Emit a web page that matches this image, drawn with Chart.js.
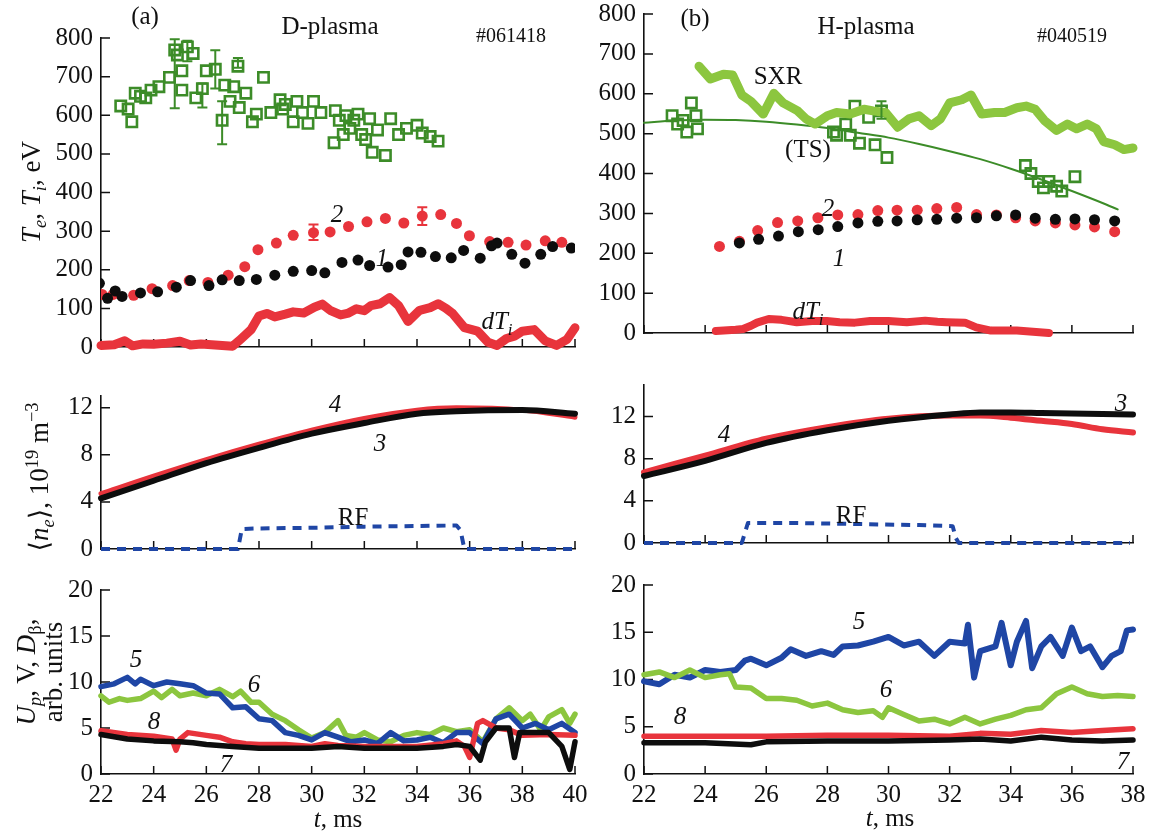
<!DOCTYPE html>
<html>
<head>
<meta charset="utf-8">
<script src="https://cdn.jsdelivr.net/npm/chart.js@4.4.0/dist/chart.umd.min.js"></script>
<style>
  body { margin: 0; width: 1149px; height: 835px; overflow: hidden; background: #fff; position: relative;
         font-family: "Liberation Serif", "DejaVu Serif", serif; color: #111; }
  .panel { position: absolute; }
  .lbl { position: absolute; white-space: nowrap; transform: translate(-50%, -50%); font-size: 25px; line-height: 1; z-index: 2; }
  .it { font-style: italic; }
  .small { font-size: 20px; }
  .ytitle { position: absolute; white-space: nowrap; transform: translate(-50%, -50%) rotate(-90deg);
            font-size: 27px; line-height: 1.0; text-align: center; z-index: 2; }
  sub, sup { font-size: 0.68em; line-height: 0; }
</style>
</head>
<body>

<!-- подписи панели (a) -->
<div class="lbl" style="left:145px;top:15px">(a)</div>
<div class="lbl" style="left:330px;top:25px">D-plasma</div>
<div class="lbl small" style="left:511px;top:35px">#061418</div>
<div class="lbl it" style="left:337px;top:213px">2</div>
<div class="lbl it" style="left:382px;top:257px">1</div>
<div class="lbl" style="left:497px;top:320px"><span class="it">dT</span><sub class="it">i</sub></div>
<div class="lbl it" style="left:335px;top:403px">4</div>
<div class="lbl it" style="left:380px;top:442px">3</div>
<div class="lbl" style="left:353px;top:516px">RF</div>
<div class="lbl it" style="left:136px;top:658px">5</div>
<div class="lbl it" style="left:254px;top:683px">6</div>
<div class="lbl it" style="left:154px;top:720px">8</div>
<div class="lbl it" style="left:226px;top:763px">7</div>
<div class="lbl" style="left:338px;top:818px"><span class="it">t</span>, ms</div>

<div class="ytitle" style="left:31px;top:192px"><span class="it">T<sub>e</sub></span>, <span class="it">T<sub>i</sub></span>, eV</div>
<div class="ytitle" style="left:39px;top:477px">⟨<span class="it">n<sub>e</sub></span>⟩, 10<sup>19</sup> m<sup>−3</sup></div>
<div class="ytitle" style="left:40px;top:672px"><span class="it">U<sub>p</sub></span>, V, <span class="it">D</span><sub>β</sub>,<br>arb. units</div>

<!-- подписи панели (b) -->
<div class="lbl" style="left:695px;top:17px">(b)</div>
<div class="lbl" style="left:866px;top:25px">H-plasma</div>
<div class="lbl small" style="left:1072px;top:35px">#040519</div>
<div class="lbl" style="left:778px;top:75px">SXR</div>
<div class="lbl" style="left:808px;top:148px">(TS)</div>
<div class="lbl it" style="left:828px;top:207px">2</div>
<div class="lbl it" style="left:839px;top:257px">1</div>
<div class="lbl" style="left:808px;top:310px"><span class="it">dT</span><sub class="it">i</sub></div>
<div class="lbl it" style="left:724px;top:433px">4</div>
<div class="lbl it" style="left:1121px;top:402px">3</div>
<div class="lbl" style="left:851px;top:514px">RF</div>
<div class="lbl it" style="left:859px;top:620px">5</div>
<div class="lbl it" style="left:886px;top:688px">6</div>
<div class="lbl it" style="left:680px;top:715px">8</div>
<div class="lbl it" style="left:1123px;top:760px">7</div>
<div class="lbl" style="left:890px;top:817px"><span class="it">t</span>, ms</div>

<script>
// ---------- (a) D-plasma, #061418 ----------
// Te (1), чёрные точки
const aTeT = [21.94,22.25,22.54,22.8,23.5,24.15,24.86,25.4,26.1,26.6,27.25,27.9,28.6,29.3,30.0,30.5,31.15,31.76,32.2,32.9,33.4,33.66,34.15,34.7,35.3,35.77,36.4,36.83,37.04,37.6,38.1,38.7,39.15,39.86];
const aTe  = [165,126,145,131,140,143,155,172,159,174,172,175,186,196,198,192,219,225,211,207,213,246,245,234,231,250,230,262,269,240,217,240,260,256];
// Ti (2), красные точки
const aTiT = [22.04,22.46,23.24,23.94,24.72,25.35,26.06,26.83,27.46,27.96,28.66,29.3,30.07,30.7,31.4,32.1,32.8,33.5,34.2,34.9,35.5,35.99,36.76,37.46,38.14,38.87,39.5];
const aTi  = [136,136,134,151,159,172,167,186,208,252,269,289,296,298,312,324,333,321,339,343,320,288,273,271,264,275,271];
const aTiErrT = [30.07, 34.2];
const aTiErrLo = [277, 316];
const aTiErrHi = [317, 362];
// зелёные квадраты
const aSqT = [22.75,23.03,23.17,23.3,23.5,23.7,23.9,24.2,24.6,24.8,24.9,25.07,25.07,25.28,25.5,25.6,25.85,26.0,26.34,26.6,26.7,26.9,27.04,27.2,27.25,27.5,27.75,27.9,28.17,28.45,28.8,28.9,29.0,29.3,29.44,29.65,29.86,30.07,30.35,30.85,30.9,31.05,31.2,31.3,31.45,31.6,31.76,31.9,32.05,32.2,32.3,32.5,32.8,33.0,33.3,33.6,34.0,34.2,34.5,34.8];
const aSq  = [624,616,583,657,649,645,665,674,698,769,756,715,665,777,760,645,669,715,719,587,678,636,674,727,620,657,583,603,698,607,640,616,628,583,636,607,579,636,607,529,612,587,550,599,566,587,603,550,537,591,504,562,496,591,550,566,574,554,545,533];
const aSqErrT = [24.8, 25.28, 25.85, 26.34, 26.6, 27.2];
const aSqErrLo = [618, 740, 620, 669, 525, 723];
const aSqErrHi = [797, 793, 682, 768, 636, 748];
// dTi
const aDtT = [22,22.5,22.9,23.2,23.6,24,24.5,25,25.4,25.8,26.2,26.6,27.0,27.3,27.7,28.0,28.3,28.6,29.0,29.3,29.7,30.1,30.4,30.7,31.1,31.4,31.7,32.0,32.25,32.6,32.96,33.3,33.66,34.1,34.5,34.8,35.1,35.35,35.8,36.3,36.7,37.04,37.4,37.7,38.0,38.45,38.87,39.3,39.7,40.0];
const aDt  = [4,6,16,3,8,7,10,15,5,8,6,4,2,20,45,80,87,78,85,91,88,103,111,95,83,88,99,94,107,112,128,107,66,95,102,112,100,87,50,41,12,4,22,28,41,45,16,4,20,50];
// <ne> (3 — чёрная, 4 — красная), RF
const aNeT = [22,24,26,28,30,32,34,35.5,38,40];
const aNe3 = [4.3,5.8,7.3,8.6,9.8,10.7,11.5,11.7,11.8,11.5];
const aNe4 = [4.7,6.2,7.6,8.9,10.1,11.1,11.8,12.0,11.8,11.2];
const aRfT = [22,27.2,27.35,28,30,32,34,35.5,35.65,35.8,40];
const aRf  = [0,0,1.7,1.75,1.8,1.9,1.95,2.0,1.6,0,0];
// Up (5), V (6), Dβ (8, 7)
const a5T = [22,22.5,23,23.3,23.5,24,24.5,25,25.5,26,26.5,27,27.5,28,28.5,29,29.5,30,30.5,31,31.5,32,32.5,33,33.5,34,34.5,35,35.5,36,36.5,37,37.5,38,38.5,39,39.5,40];
const a5  = [9.5,9.8,10.5,9.8,10.3,9.6,10,9.8,9.6,8.8,8.7,7.2,7.3,6,5.8,4.5,4.2,3.7,4.5,4.0,3.5,3.7,3.3,4.5,3.6,3.7,4.0,3.4,4.5,4.5,3.3,6.0,6.5,5.0,5.5,4.8,5.5,4.5];
const a6T = [22,22.3,22.7,23,23.5,24,24.3,24.7,25,25.5,26,26.5,27,27.3,27.7,28,28.5,29,29.5,30,30.5,31,31.3,31.7,32,32.5,33,33.5,34,34.5,35,35.5,36,36.5,36.8,37,37.5,38,38.3,38.7,39,39.5,39.8,40];
const a6  = [8.5,7.8,8.2,8.0,8.2,9.0,8.3,9.2,8.5,8.8,8.5,9.2,8.4,9.0,7.8,7.8,6.5,5.8,4.8,3.9,4.5,5.8,4.2,4.0,4.5,3.7,3.5,4.2,4.5,4.3,5.0,4.6,4.8,3.5,5.0,6.0,7.2,5.8,6.5,4.8,6.2,7.0,5.5,6.5];
const a8T = [22,23,24,24.7,24.85,25,25.3,26,26.5,27,27.5,28,29,30,30.5,31,32,33,34,35,35.5,35.8,36,36.3,36.5,37,37.5,38,39,40];
const a8  = [4.7,4.3,4.1,3.8,2.6,3.8,4.5,4.2,4.0,3.5,3.3,3.2,3.2,3.0,3.3,3.1,3.0,3.0,3.0,3.3,3.6,3.0,1.8,5.5,5.8,5.0,4.8,4.2,4.3,4.2];
const a7T = [22,23,24,25,25.5,26,27,28,29,30,31,32,33,34,35,35.5,36,36.4,36.6,37,37.5,37.7,37.9,38.5,39,39.5,39.8,40];
const a7  = [4.3,3.8,3.6,3.5,3.4,3.2,3.0,2.8,2.8,2.8,3.0,2.8,2.8,2.8,3.0,3.2,3.0,1.5,3.5,5.0,5.0,1.8,4.5,4.5,4.5,3.0,0.5,3.5];

// ---------- (b) H-plasma, #040519 ----------
const bTeT = [25.12,25.75,26.4,27.05,27.7,28.34,29.0,29.65,30.28,30.94,31.58,32.23,32.88,33.53,34.16,34.8,35.46,36.1,36.74,37.4];
const bTe  = [226,235,243,254,259,267,276,280,281,284,285,288,289,294,296,288,285,286,284,281];
const bTiT = [24.47,25.12,25.72,26.37,27.03,27.69,28.34,29.0,29.65,30.28,30.94,31.58,32.23,32.88,33.53,34.16,34.8,35.46,36.1,36.74,37.4];
const bTi  = [217,230,257,277,281,289,296,297,307,308,308,312,315,297,296,289,281,276,271,266,254];
const bSqT = [22.92,23.1,23.28,23.4,23.55,23.7,23.75,28.2,28.3,28.6,28.75,28.9,29.05,29.35,29.56,29.77,29.95,34.48,34.66,34.9,35.07,35.25,35.5,35.67,36.1];
const bSq  = [545,524,533,504,577,545,512,504,496,524,496,569,476,541,472,557,440,420,400,380,364,380,368,356,392];
const bSqErrT = [29.77];
const bSqErrLo = [537];
const bSqErrHi = [581];
const bSxrT = [23.8,24.17,24.6,24.9,25.2,25.5,25.9,26.25,26.55,27.03,27.3,27.6,28.0,28.3,28.75,29.2,29.5,29.9,30.3,30.67,31.0,31.4,31.7,32.0,32.4,32.7,33.05,33.47,33.8,34.2,34.5,34.8,35.1,35.5,35.85,36.15,36.5,36.8,37.04,37.4,37.7,38.0];
const bSxr  = [669,637,649,647,597,581,549,601,577,557,537,524,545,553,549,561,557,553,516,537,545,520,537,577,585,597,549,553,553,565,569,561,533,508,524,512,524,512,480,472,460,464];
const bFitT = [22,23,24,25,26,27,28,29,30,31,32,33,34,35,36,37,37.5];
const bFit  = [527,533,535,534,530,523,514,502,490,474,456,436,412,385,356,326,310];
const bDtT = [24.35,25.0,25.24,25.5,25.7,26.08,26.5,27.0,27.5,27.98,28.4,28.9,29.4,30.0,30.6,31.2,31.6,31.9,32.5,32.87,33.35,34.2,35.25];
const bDt  = [5,8,10,18,26,35,33,27,30,30,27,26,30,30,27,31,28,27,26,14,6,6,0];
const bNeT = [22,24,26,28,30,32,33,34,35,36,37,38];
const bNe3 = [6.36,7.8,9.5,10.7,11.6,12.2,12.4,12.4,12.35,12.3,12.25,12.2];
const bNe4 = [6.7,8.3,9.9,11.0,11.8,12.1,12.1,11.9,11.6,11.3,10.8,10.5];
const bRfT = [22,25.2,25.4,27,29,31,32.1,32.2,32.3,37.9];
const bRf  = [0,0,1.9,1.9,1.8,1.7,1.6,0.5,0,0];
const b5T = [22,22.5,23,23.5,24,24.5,25,25.3,25.5,26,26.5,26.8,27.3,27.8,28.2,28.5,29,29.5,30,30.5,31,31.5,32,32.5,32.6,32.8,33,33.5,33.7,34,34.2,34.5,34.7,35,35.3,35.7,36,36.3,36.6,37,37.3,37.6,37.8,38];
const b5  = [9.8,9.5,10.5,10.2,11,10.8,11,12,12.2,11.5,12.3,13.2,12.5,13,12.6,13.5,13.6,14,14.5,13.6,14,12.5,14,13.8,15.8,10.2,13,13.5,16,11.5,14,16.2,11.2,13.5,14.5,12.5,15.5,13,13.5,11.3,12.5,13,15.2,15.3];
const b6T = [22,22.5,23,23.5,24,24.5,24.8,25,25.5,26,26.5,27,27.5,28,28.5,29,29.5,29.8,30,30.5,31,31.5,32,32.5,33,33.5,34,34.5,35,35.5,36,36.5,37,37.5,38];
const b6  = [10.5,10.8,10.2,11,10.2,10.5,10.6,9.2,9.1,8,8,7.8,7.2,7.5,6.8,6.5,6.7,6,7,6.3,5.6,5.8,5.3,6.0,5.3,5.8,6.2,6.8,7.0,8.5,9.2,8.5,8.2,8.3,8.2];
const b8T = [22,24,26,28,30,32,33,34,35,36,37,38];
const b8  = [4.0,4.0,4.0,4.1,4.1,4.0,4.3,4.2,4.6,4.4,4.6,4.8];
const b7T = [22,24,25.5,26,28,30,32,33,34,35,36,37,38];
const b7  = [3.3,3.3,3.1,3.4,3.5,3.5,3.6,3.7,3.5,3.9,3.6,3.5,3.6];

// тики осей
const xTicksA = [22,24,26,28,30,32,34,36,38,40];
const xTicksB = [22,24,26,28,30,32,34,36,38];
const yTicksT = [0,100,200,300,400,500,600,700,800];
const yTicksN = [0,4,8,12];
const yTicksU = [0,5,10,15,20];

const FONT = 'Liberation Serif';
const RED = '#e8343c', BLACK = '#0d0d0d', DKGREEN = '#3c8c28', LTGREEN = '#8cc63f', BLUE = '#1f46a5';

function pts(xs, ys) { return xs.map((x, i) => ({ x: x, y: ys[i] })); }
function errs(xs, lo, hi) { return xs.map((x, i) => ({ x: x, lo: lo[i], hi: hi[i] })); }

function line(xs, ys, color, width, extra) {
    return Object.assign({ type: 'line', data: pts(xs, ys), showLine: true, borderColor: color, borderWidth: width,
        pointRadius: 0, fill: false, tension: 0, clip: false, borderJoinStyle: 'round', borderCapStyle: 'round' }, extra || {});
}
function dots(xs, ys, color) {
    return { data: pts(xs, ys), showLine: false, pointRadius: 5.5, pointBackgroundColor: color, pointBorderWidth: 0, borderColor: color };
}
function squares(xs, ys) {
    return { data: pts(xs, ys), showLine: false, pointStyle: 'rect', pointRadius: 7.3, pointBackgroundColor: 'rgba(0,0,0,0)',
        pointBorderColor: DKGREEN, pointBorderWidth: 2.6, borderColor: DKGREEN };
}

// короткие тики внутрь области графика
const innerTicks = {
    id: 'innerTicks',
    beforeDatasetsDraw(chart) {
        const { ctx, chartArea: a } = chart;
        const x = chart.scales.x, y = chart.scales.y;
        ctx.save();
        ctx.strokeStyle = '#111';
        ctx.lineWidth = 1.5;
        ctx.beginPath();
        x.ticks.forEach(t => {
            const px = x.getPixelForValue(t.value);
            ctx.moveTo(px, a.bottom); ctx.lineTo(px, a.bottom - 8);
        });
        y.ticks.forEach(t => {
            const py = y.getPixelForValue(t.value);
            ctx.moveTo(a.left, py); ctx.lineTo(a.left + 9, py);
        });
        ctx.stroke();
        ctx.restore();
    }
};

// усы погрешностей
const errBars = {
    id: 'errBars',
    afterDatasetsDraw(chart) {
        const { ctx } = chart;
        const x = chart.scales.x, y = chart.scales.y;
        chart.data.datasets.forEach(ds => {
            if (!ds.errBars) return;
            ctx.save();
            ctx.strokeStyle = ds.borderColor;
            ctx.lineWidth = 2;
            ds.errBars.forEach(e => {
                const px = x.getPixelForValue(e.x);
                const y1 = y.getPixelForValue(e.lo), y2 = y.getPixelForValue(e.hi);
                ctx.beginPath();
                ctx.moveTo(px, y1); ctx.lineTo(px, y2);
                ctx.moveTo(px - 5, y1); ctx.lineTo(px + 5, y1);
                ctx.moveTo(px - 5, y2); ctx.lineTo(px + 5, y2);
                ctx.stroke();
            });
            ctx.restore();
        });
    }
};

// одна панель: box — пиксельные границы области построения
function panel(box, xMax, xTicks, yMax, yTicks, showX, datasets) {
    const padL = 80, padR = 30, padT = 30, padB = showX ? 60 : 10;
    const w = Math.round(box.r - box.l + padL + padR), h = Math.round(box.b - box.t + padT + padB);
    const div = document.createElement('div');
    div.className = 'panel';
    div.style.left = (box.l - padL) + 'px';
    div.style.top = (box.t - padT) + 'px';
    div.style.width = w + 'px';
    div.style.height = h + 'px';
    const cv = document.createElement('canvas');
    cv.width = w; cv.height = h;
    cv.style.width = w + 'px'; cv.style.height = h + 'px';
    div.appendChild(cv);
    document.body.appendChild(div);

    const tickFont = { family: FONT, size: 25 };
    new Chart(cv, {
        type: 'scatter',
        data: { datasets: datasets },
        options: {
            responsive: false,
            animation: false,
            events: [],
            layout: { padding: { left: 0, right: padR, top: padT, bottom: 0 } },
            plugins: { legend: { display: false }, tooltip: { enabled: false } },
            scales: {
                x: {
                    type: 'linear', min: 22, max: xMax,
                    afterBuildTicks: s => { s.ticks = xTicks.map(v => ({ value: v })); },
                    ticks: { display: showX, padding: 6, color: '#111', font: tickFont, maxRotation: 0, autoSkip: false },
                    grid: { drawOnChartArea: false, drawTicks: false },
                    border: { display: true, color: '#111', width: 1.6 },
                    afterFit: s => { s.height = padB; }
                },
                y: {
                    type: 'linear', min: 0, max: yMax,
                    afterBuildTicks: s => { s.ticks = yTicks.map(v => ({ value: v })); },
                    ticks: { padding: 8, color: '#111', font: tickFont },
                    grid: { drawOnChartArea: false, drawTicks: false },
                    border: { display: true, color: '#111', width: 1.6 },
                    afterFit: s => { s.width = padL; }
                }
            }
        },
        plugins: [innerTicks, errBars]
    });
}

// (a) верх: Te, Ti
panel({ l: 101, r: 574.5, t: 38, b: 360 }, 40, xTicksA, 800, yTicksT, false, [
    line(aDtT, aDt, RED, 9),
    Object.assign(squares(aSqT, aSq), { errBars: errs(aSqErrT, aSqErrLo, aSqErrHi) }),
    dots(aTeT, aTe, BLACK),
    Object.assign(dots(aTiT, aTi, RED), { errBars: errs(aTiErrT, aTiErrLo, aTiErrHi) })
]);
// (a) середина: <ne>, RF
panel({ l: 101, r: 574.5, t: 396, b: 562 }, 40, xTicksA, 13, yTicksN, false, [
    line(aRfT, aRf, BLUE, 4, { borderDash: [9, 7], borderCapStyle: 'butt' }),
    line(aNeT, aNe3, BLACK, 6, { cubicInterpolationMode: 'monotone' }),
    line(aNeT, aNe4, RED, 5, { cubicInterpolationMode: 'monotone' })
]);
// (a) низ: Up, V, Dβ
panel({ l: 101, r: 574.5, t: 590, b: 774 }, 40, xTicksA, 20, yTicksU, true, [
    line(a7T, a7, BLACK, 5.5),
    line(a8T, a8, RED, 5.5),
    line(a5T, a5, BLUE, 5.5),
    line(a6T, a6, LTGREEN, 5.5)
]);

// (b) верх
panel({ l: 643.5, r: 1132, t: 13.5, b: 345 }, 38, xTicksB, 800, yTicksT, false, [
    line(bDtT, bDt, RED, 8),
    line(bSxrT, bSxr, LTGREEN, 9),
    line(bFitT, bFit, DKGREEN, 2, { cubicInterpolationMode: 'monotone' }),
    Object.assign(squares(bSqT, bSq), { errBars: errs(bSqErrT, bSqErrLo, bSqErrHi) }),
    dots(bTeT, bTe, BLACK),
    dots(bTiT, bTi, RED)
]);
// (b) середина
panel({ l: 643.5, r: 1132, t: 385, b: 556 }, 38, xTicksB, 15, yTicksN, false, [
    line(bRfT, bRf, BLUE, 4, { borderDash: [9, 7], borderCapStyle: 'butt' }),
    line(bNeT, bNe3, BLACK, 6, { cubicInterpolationMode: 'monotone' }),
    line(bNeT, bNe4, RED, 6, { cubicInterpolationMode: 'monotone' })
]);
// (b) низ
panel({ l: 643.5, r: 1132, t: 585, b: 774 }, 38, xTicksB, 20, yTicksU, true, [
    line(b7T, b7, BLACK, 5.5),
    line(b8T, b8, RED, 5.5),
    line(b6T, b6, LTGREEN, 5.5),
    line(b5T, b5, BLUE, 6)
]);
</script>
</body>
</html>
